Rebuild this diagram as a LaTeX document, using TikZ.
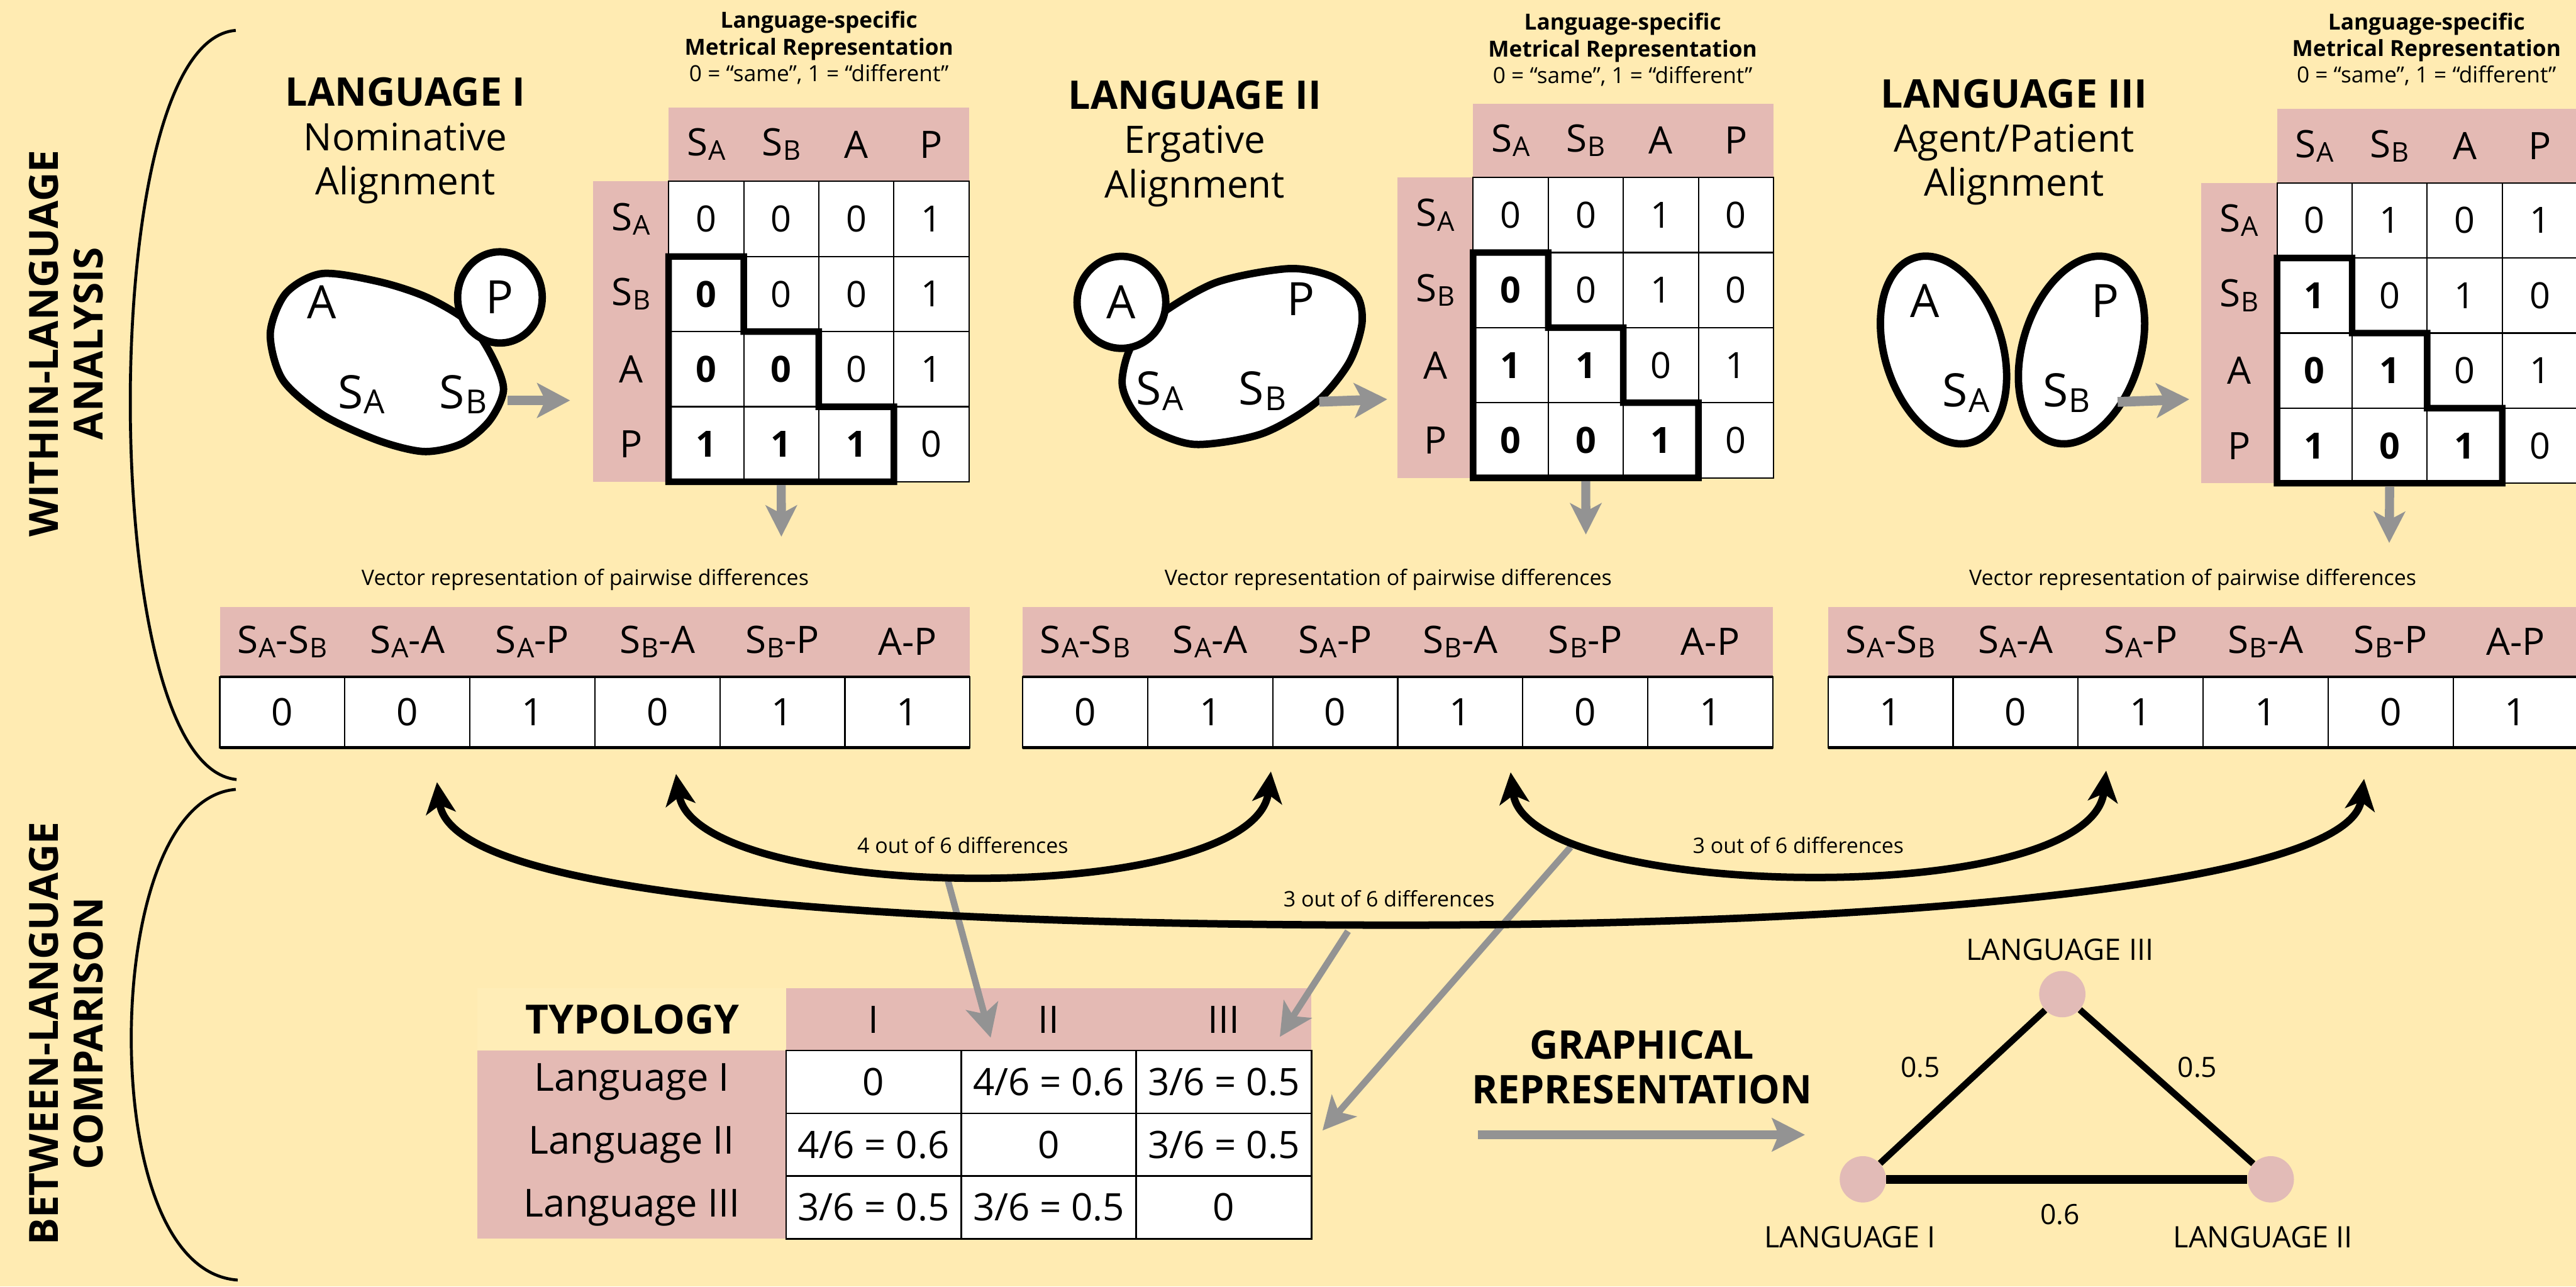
\documentclass[tikz,border=0pt]{standalone}
\usepackage{fontspec}
\setmainfont{Open Sans}
\usepackage{graphicx}
\usetikzlibrary{arrows.meta,shapes.geometric}
\definecolor{bgc}{HTML}{FFEBB2}
\definecolor{pinkc}{HTML}{E4BAB4}
\definecolor{grayc}{HTML}{939393}
\definecolor{gnodec}{HTML}{E2BBB7}
\definecolor{lightc}{HTML}{FFEDB7}
\newcommand\fsz[1]{\fontsize{#1}{#1}\selectfont}
\newcommand\ssub[2]{#1\kern0.02em\raisebox{-0.12em}{\scalebox{0.72}{#2}}}
\tikzset{
 pinkbox/.style={fill=pinkc, draw=none, inner sep=0pt, outer sep=0pt},
 cell/.style={draw=black, line width=0.8pt, fill=white, minimum width=45.7pt, minimum height=45.7pt, inner sep=0pt, outer sep=0pt, font=\fsz{22}},
 lab/.style={inner sep=0pt, font=\fsz{23}},
 vcell/.style={draw=black, line width=0.8pt, fill=white, minimum width=76.1pt, minimum height=43.2pt, inner sep=0pt, outer sep=0pt, font=\fsz{23}},
 tcell/.style={draw=black, line width=1pt, fill=white, minimum width=106.6pt, minimum height=38.2pt, inner sep=0pt, outer sep=0pt, font=\fsz{23}},
 stairline/.style={draw=black, line width=4pt, line join=miter},
 blobline/.style={draw=black, line width=4.5pt, fill=white},
 blobtxt/.style={inner sep=0pt, font=\fsz{28}},
 title/.style={inner sep=0pt, anchor=base, font=\fsz{24}\bfseries},
 subtitle/.style={inner sep=0pt, anchor=base, font=\fsz{23}},
 mtitle/.style={inner sep=0pt, anchor=base, font=\fsz{13.5}\bfseries},
 mnote/.style={inner sep=0pt, anchor=base, font=\fsz{13.5}},
 captxt/.style={inner sep=0pt, anchor=base, font=\fsz{13}},
 fatgray/.style={draw=grayc, line width=6pt, -{Stealth[length=20pt,width=21pt,inset=5pt]}},
 downgray/.style={draw=grayc, line width=5.5pt, -{Stealth[length=19pt,width=19pt,inset=5pt]}},
 thingray/.style={draw=grayc, line width=4pt, -{Stealth[length=20pt,width=20pt,inset=5pt]}},
 bigarc/.style={draw=black, line width=4.5pt, {Stealth[length=19pt,width=18pt,inset=5pt]}-{Stealth[length=19pt,width=18pt,inset=5pt]}},
 brace/.style={draw=black, line width=1.8pt},
 side/.style={inner sep=0pt, rotate=90, align=center, font=\fontsize{24.5}{27}\selectfont\bfseries},
 gnode/.style={circle, fill=gnodec, minimum size=28.2pt, inner sep=0pt},
 glab/.style={inner sep=0pt, font=\fsz{18}},
 elab/.style={inner sep=0pt, font=\fsz{17}},
}
% matrix frame: prefix, x0, y0
\newcommand\langmat[3]{%
  \node[pinkbox, minimum width=182.8pt, minimum height=45pt, anchor=south west] (#1-colhead) at (#2,#3) {};
  \node[pinkbox, minimum width=46pt, minimum height=182.8pt, anchor=north east] (#1-rowhead) at (#2,#3) {};
  \foreach \t [count=\j] in {{\ssub{S}{A}},{\ssub{S}{B}},A,P} {
    \node[lab] (#1-ch-\j) at ({#2+(\j-0.5)*45.7},{#3-22.5}) {\t};
    \node[lab] (#1-rh-\j) at ({#2-23},{#3+(\j-0.5)*45.7}) {\t};
  }
}
\newcommand\mrow[8]{%
  \foreach \v [count=\j] in {#5,#6,#7,#8}
    \node[cell] (#1-#2-\j) at ({#3+(\j-0.5)*45.7},{#4+(#2-0.5)*45.7}) {\v};
}
\newcommand\stair[1]{%
  \draw[stairline] (#1-2-1.north west) -- (#1-2-1.north east) -- (#1-3-2.north west) -- (#1-3-2.north east) -- (#1-4-3.north west) -- (#1-4-3.north east) -- (#1-4-3.south east) -- (#1-4-1.south west) -- cycle;
}
\newcommand\vect[8]{%
  \node[pinkbox, minimum width=456.6pt, minimum height=42.4pt, anchor=south west] (#1-head) at (#2,411.8) {};
  \foreach \t [count=\j] in {{\ssub{S}{A}-\ssub{S}{B}},{\ssub{S}{A}-A},{\ssub{S}{A}-P},{\ssub{S}{B}-A},{\ssub{S}{B}-P},{A-P}}
    \node[lab] (#1-h-\j) at ({#2+(\j-0.5)*76.1},390.6) {\t};
  \foreach \v [count=\j] in {#3,#4,#5,#6,#7,#8}
    \node[vcell] (#1-\j) at ({#2+(\j-0.5)*76.1},433.4) {\v};
  \draw[line width=1.6pt] (#1-1.north west) -- (#1-6.north east);
  \draw[line width=1.6pt] (#1-1.south west) -- (#1-6.south east);
}
\begin{document}
\begin{tikzpicture}[x=1pt,y=-1pt]
\useasboundingbox (0,0) rectangle (1568,783);
\fill[bgc] (0,0) rectangle (1568,783);

% ---- side labels and braces
\node[side] (within) at (40.2,209) {WITHIN-LANGUAGE\\ANALYSIS};
\node[side] (between) at (40.2,629) {BETWEEN-LANGUAGE\\COMPARISON};
\draw[brace] (143.5,18.5) .. controls (98,22) and (79.3,140) .. (79.3,244.7) .. controls (79.3,350) and (98,470) .. (144,474.4);
\draw[brace] (143.5,480.4) .. controls (100,484) and (79.9,560) .. (79.9,631.7) .. controls (79.9,705) and (100,776) .. (144.7,779);

% ---- titles
\node[title] (t1) at (246.7,64.5) {LANGUAGE I};
\node[subtitle] (t1a) at (246.7,91.5) {Nominative};
\node[subtitle] (t1b) at (246.7,118.5) {Alignment};
\node[title] (t2) at (727.3,66.5) {LANGUAGE II};
\node[subtitle] (t2a) at (727.3,93.4) {Ergative};
\node[subtitle] (t2b) at (727.3,120.4) {Alignment};
\node[title] (t3) at (1225.9,65.5) {LANGUAGE III};
\node[subtitle] (t3a) at (1225.9,92.5) {Agent/Patient};
\node[subtitle] (t3b) at (1225.9,119.4) {Alignment};

\foreach \n/\x/\y in {1/498.5/17.2, 2/987.7/18.3, 3/1477/18} {
  \node[mtitle] (mt\n a) at ({\x},{\y}) {Language-specific};
  \node[mtitle] (mt\n b) at ({\x},{\y+16.2}) {Metrical Representation};
  \node[mnote] (mt\n c) at ({\x},{\y+32.4}) {0 = “same”, 1 = “different”};
}

% ---- matrices
\langmat{m1}{407}{110.4}
\mrow{m1}{1}{407}{110.4}{0}{0}{0}{1}
\mrow{m1}{2}{407}{110.4}{\textbf{0}}{0}{0}{1}
\mrow{m1}{3}{407}{110.4}{\textbf{0}}{\textbf{0}}{0}{1}
\mrow{m1}{4}{407}{110.4}{\textbf{1}}{\textbf{1}}{\textbf{1}}{0}
\stair{m1}

\langmat{m2}{896.7}{108}
\mrow{m2}{1}{896.7}{108}{0}{0}{1}{0}
\mrow{m2}{2}{896.7}{108}{\textbf{0}}{0}{1}{0}
\mrow{m2}{3}{896.7}{108}{\textbf{1}}{\textbf{1}}{0}{1}
\mrow{m2}{4}{896.7}{108}{\textbf{0}}{\textbf{0}}{\textbf{1}}{0}
\stair{m2}

\langmat{m3}{1386}{111.3}
\mrow{m3}{1}{1386}{111.3}{0}{1}{0}{1}
\mrow{m3}{2}{1386}{111.3}{\textbf{1}}{0}{1}{0}
\mrow{m3}{3}{1386}{111.3}{\textbf{0}}{\textbf{1}}{0}{1}
\mrow{m3}{4}{1386}{111.3}{\textbf{1}}{\textbf{0}}{\textbf{1}}{0}
\stair{m3}

% ---- blobs
\draw[blobline] plot[smooth cycle] coordinates {(196,166.5) (231,171.5) (260,181) (285,196) (299,216) (306.5,237) (298,256) (281,270) (258,274.8) (230,268) (196.5,252.5) (172,231) (164.5,203) (174,178.5)};
\node[blobline, ellipse, minimum width=51.5pt, minimum height=55.5pt, inner sep=0pt, font=\fsz{28}] (p1) at (304.3,181) {P};
\node[blobtxt] (a1) at (196,184) {A};
\node[blobtxt] (sa1) at (220,240) {\ssub{S}{A}};
\node[blobtxt] (sb1) at (282,240) {\ssub{S}{B}};

\draw[blobline] plot[smooth cycle] coordinates {(784,163.5) (810,168) (826,180) (829,197) (821,221) (801,245) (768,264) (728,270.5) (702,262) (689,249) (683,233) (688,212) (704,193) (740,172)};
\node[blobline, ellipse, minimum width=54pt, minimum height=56pt, inner sep=0pt, font=\fsz{28}] (a2) at (682.6,184) {A};
\node[blobtxt] (p2) at (792,182) {P};
\node[blobtxt] (sa2) at (706,238) {\ssub{S}{A}};
\node[blobtxt] (sb2) at (768.6,238) {\ssub{S}{B}};

\node[blobline, ellipse, minimum width=71.6pt, minimum height=117.6pt, inner sep=0pt, rotate=17.4] (e3a) at (1183,213) {};
\node[blobline, ellipse, minimum width=71.6pt, minimum height=117.6pt, inner sep=0pt, rotate=-17.4] (e3b) at (1267,213) {};
\node[blobtxt] (a3) at (1171.7,183) {A};
\node[blobtxt] (sa3) at (1196.8,239) {\ssub{S}{A}};
\node[blobtxt] (p3) at (1281.5,183) {P};
\node[blobtxt] (sb3) at (1258,239) {\ssub{S}{B}};

% ---- blob -> matrix arrows
\coordinate (b1s) at (309,243.7); \coordinate (b1e) at (347,243.7);
\coordinate (b2s) at (803,244.5); \coordinate (b2e) at (844.4,243);
\coordinate (b3s) at (1289,244.6); \coordinate (b3e) at (1332.6,243);
\draw[fatgray] (b1s) -- (b1e);
\draw[fatgray] (b2s) -- (b2e);
\draw[fatgray] (b3s) -- (b3e);

% ---- vectors
\vect{v1}{133.8}{0}{0}{1}{0}{1}{1}
\vect{v2}{622.5}{0}{1}{0}{1}{0}{1}
\vect{v3}{1112.7}{1}{0}{1}{1}{0}{1}
\node[captxt] (cap1) at (356.2,356.2) {Vector representation of pairwise differences};
\node[captxt] (cap2) at (845,356.2) {Vector representation of pairwise differences};
\node[captxt] (cap3) at (1334.7,356.2) {Vector representation of pairwise differences};

% ---- matrix -> vector arrows
\coordinate (d1) at (475.6,326.6);
\coordinate (d2) at (965.3,325.3);
\coordinate (d3) at (1454.3,330.4);
\draw[downgray] ([yshift=-2pt]m1-4-2.south) -- (d1);
\draw[downgray] ([yshift=-2pt]m2-4-2.south) -- (d2);
\draw[downgray] ([yshift=-2pt]m3-4-2.south) -- (d3);

% ---- typology table
\node[fill=lightc, minimum width=187.9pt, minimum height=37.8pt, anchor=south east, inner sep=0pt, outer sep=0pt] (tycorner) at (478.5,639.3) {};
\node[pinkbox, minimum width=319.7pt, minimum height=37.8pt, anchor=south west] (tyhead) at (478.5,639.3) {};
\node[pinkbox, minimum width=187.9pt, minimum height=114.6pt, anchor=north east] (tyrow) at (478.5,639.3) {};
\node[inner sep=0pt, font=\fsz{24.5}\bfseries] (typ) at (385,620.4) {TYPOLOGY};
\node[lab] (th1) at (531.75,620.4) {I};
\node[lab] (th2) at (638.35,620.4) {II};
\node[lab] (th3) at (744.95,620.4) {III};
\node[inner sep=0pt, font=\fsz{23.5}] (tr1) at (384.5,658.4) {Language I};
\node[inner sep=0pt, font=\fsz{23.5}] (tr2) at (384.5,696.6) {Language II};
\node[inner sep=0pt, font=\fsz{23.5}] (tr3) at (384.5,734.8) {Language III};
\node[tcell] (c11) at (531.75,658.4) {0};
\node[tcell] (c12) at (638.35,658.4) {4/6 = 0.6};
\node[tcell] (c13) at (744.95,658.4) {3/6 = 0.5};
\node[tcell] (c21) at (531.75,696.6) {4/6 = 0.6};
\node[tcell] (c22) at (638.35,696.6) {0};
\node[tcell] (c23) at (744.95,696.6) {3/6 = 0.5};
\node[tcell] (c31) at (531.75,734.8) {3/6 = 0.5};
\node[tcell] (c32) at (638.35,734.8) {3/6 = 0.5};
\node[tcell] (c33) at (744.95,734.8) {0};

% ---- gray arrows into the table
\coordinate (g1s) at (577,536); \coordinate (g1e) at (603,631.5);
\coordinate (g2s) at (820.5,566.7); \coordinate (g2e) at (779,631);
\coordinate (g3s) at (956,515.5); \coordinate (g3e) at (805,688);
\draw[thingray] (g1s) -- (g1e);
\draw[thingray] (g2s) -- (g2e);
\draw[thingray] (g3s) -- (g3e);

% ---- comparison arcs
\coordinate (a1L) at (411.5,471); \coordinate (a1B) at (595,534.5); \coordinate (a1R) at (773.6,469.5);
\coordinate (a2L) at (919.5,470); \coordinate (a2B) at (1105,534); \coordinate (a2R) at (1282,469);
\coordinate (a3L) at (266,476); \coordinate (a3B) at (852,563); \coordinate (a3R) at (1439,474);
\draw[bigarc] (a1L) .. controls (418,515) and (500,534.5) .. (a1B) .. controls (690,534.5) and (768,515) .. (a1R);
\draw[bigarc] (a2L) .. controls (925,515) and (1010,534) .. (a2B) .. controls (1200,534) and (1277,515) .. (a2R);
\draw[bigarc] (a3L) .. controls (275,548) and (560,563) .. (a3B) .. controls (1140,563) and (1430,540) .. (a3R);
\node[captxt] (l1) at (586,519.4) {4 out of 6 differences};
\node[captxt] (l2) at (1094.6,519.1) {3 out of 6 differences};
\node[captxt] (l3) at (845.5,552) {3 out of 6 differences};

% ---- graphical representation
\node[inner sep=0pt, anchor=base, font=\fsz{24}\bfseries] (gr1) at (999.5,644.6) {GRAPHICAL};
\node[inner sep=0pt, anchor=base, font=\fsz{24}\bfseries] (gr2) at (999.5,671.7) {REPRESENTATION};
\coordinate (gas) at (899.7,690.6); \coordinate (gae) at (1098.7,690.6);
\draw[draw=grayc, line width=5pt, -{Stealth[length=20pt,width=20pt,inset=4pt]}] (gas) -- (gae);
\node[gnode] (gI) at (1133.9,717.7) {};
\node[gnode] (gII) at (1382.2,717.7) {};
\node[gnode] (gIII) at (1255.3,605) {};
\draw[line width=4pt] (gI) -- (gIII);
\draw[line width=4pt] (gIII) -- (gII);
\draw[line width=5.5pt] (gI) -- (gII);
\node[glab] (lg3) at (1253.8,578) {LANGUAGE III};
\node[glab] (lg1) at (1126,753) {LANGUAGE I};
\node[glab] (lg2) at (1377.5,753) {LANGUAGE II};
\node[elab] (e13) at (1169,649.5) {0.5};
\node[elab] (e23) at (1337.5,649.5) {0.5};
\node[elab] (e12) at (1254,739) {0.6};
\end{tikzpicture}
\end{document}
